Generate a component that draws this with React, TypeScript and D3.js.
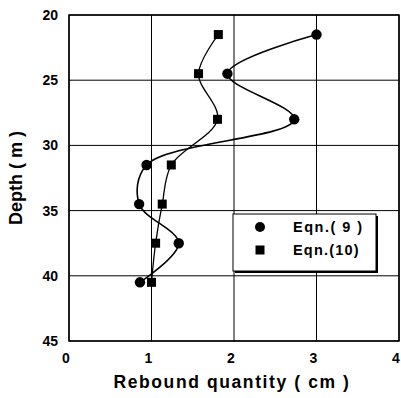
import React from "react";
import * as d3 from "d3";

// Rebound quantity (cm) by depth (m), two estimation equations
const depths = [21.5, 24.5, 28, 31.5, 34.5, 37.5, 40.5];
const eqn9 = [3.0, 1.92, 2.73, 0.94, 0.85, 1.33, 0.86];
const eqn10 = [1.81, 1.57, 1.8, 1.24, 1.13, 1.05, 1.0];
const xTicks = [0, 1, 2, 3, 4];
const yTicks = [20, 25, 30, 35, 40, 45];
const seriesNames = ["Eqn.( 9 )", "Eqn.(10)"];

const W = 401;
const H = 398;
const left = 69;
const right = 399;
const top = 15;
const bottom = 341;
const font = "'Liberation Sans', Arial, sans-serif";

export default function App() {
  const x = d3.scaleLinear().domain([0, 4]).range([left, right]);
  const y = d3.scaleLinear().domain([20, 45]).range([top, bottom]);

  const line = d3
    .line<[number, number]>()
    .x((d) => x(d[0]))
    .y((d) => y(d[1]))
    .curve(d3.curveCatmullRom.alpha(0.5));

  const pts9: [number, number][] = eqn9.map((v, i) => [v, depths[i]]);
  const pts10: [number, number][] = eqn10.map((v, i) => [v, depths[i]]);

  const lx = 233;
  const ly = 214;
  const lw = 143;
  const lh = 57;

  return (
    <svg
      width={W}
      height={H}
      style={{ position: "absolute", left: 0, top: 0, background: "#fff" }}
    >
      {/* grid */}
      {xTicks.map((t) => (
        <line key={"gx" + t} x1={x(t)} x2={x(t)} y1={top} y2={bottom} stroke="#000" strokeWidth={1} />
      ))}
      {yTicks.map((t) => (
        <line key={"gy" + t} x1={left} x2={right} y1={y(t)} y2={y(t)} stroke="#000" strokeWidth={1} />
      ))}
      <rect x={left} y={top} width={right - left} height={bottom - top} fill="none" stroke="#000" strokeWidth={1.5} />

      {/* curves */}
      <path d={line(pts9) || ""} fill="none" stroke="#000" strokeWidth={1.6} />
      <path d={line(pts10) || ""} fill="none" stroke="#000" strokeWidth={1.3} />

      {/* markers */}
      {pts9.map((p, i) => (
        <circle key={"c" + i} cx={x(p[0])} cy={y(p[1])} r={5.2} fill="#000" />
      ))}
      {pts10.map((p, i) => (
        <rect key={"s" + i} x={x(p[0]) - 4.5} y={y(p[1]) - 4.5} width={9} height={9} fill="#000" />
      ))}

      {/* legend */}
      <rect x={lx + 2} y={ly + 2} width={lw} height={lh} fill="#000" />
      <rect x={lx} y={ly} width={lw} height={lh} fill="#fff" stroke="#000" strokeWidth={1} />
      <circle cx={260} cy={227} r={5} fill="#000" />
      <rect x={255.5} y={245.5} width={9} height={9} fill="#000" />
      <text x={293} y={232} fontFamily={font} fontWeight="bold" fontSize={14.5} letterSpacing={1.5}>
        {seriesNames[0]}
      </text>
      <text x={293} y={255} fontFamily={font} fontWeight="bold" fontSize={14.5} letterSpacing={1.2}>
        {seriesNames[1]}
      </text>

      {/* tick labels */}
      {yTicks.map((t) => (
        <text
          key={"ty" + t}
          x={58}
          y={y(t) + 5}
          textAnchor="end"
          fontFamily={font}
          fontWeight="bold"
          fontSize={14}
        >
          {t}
        </text>
      ))}
      {xTicks.map((t) => (
        <text
          key={"tx" + t}
          x={x(t) - 3}
          y={363}
          textAnchor="middle"
          fontFamily={font}
          fontWeight="bold"
          fontSize={14}
        >
          {t}
        </text>
      ))}

      {/* axis titles */}
      <text
        x={232}
        y={388}
        textAnchor="middle"
        fontFamily={font}
        fontWeight="bold"
        fontSize={17.5}
        letterSpacing={1.6}
      >
        Rebound quantity ( cm )
      </text>
      <text
        transform={`translate(22,${(top + bottom) / 2}) rotate(-90)`}
        textAnchor="middle"
        fontFamily={font}
        fontWeight="bold"
        fontSize={18}
      >
        Depth ( m )
      </text>
    </svg>
  );
}
